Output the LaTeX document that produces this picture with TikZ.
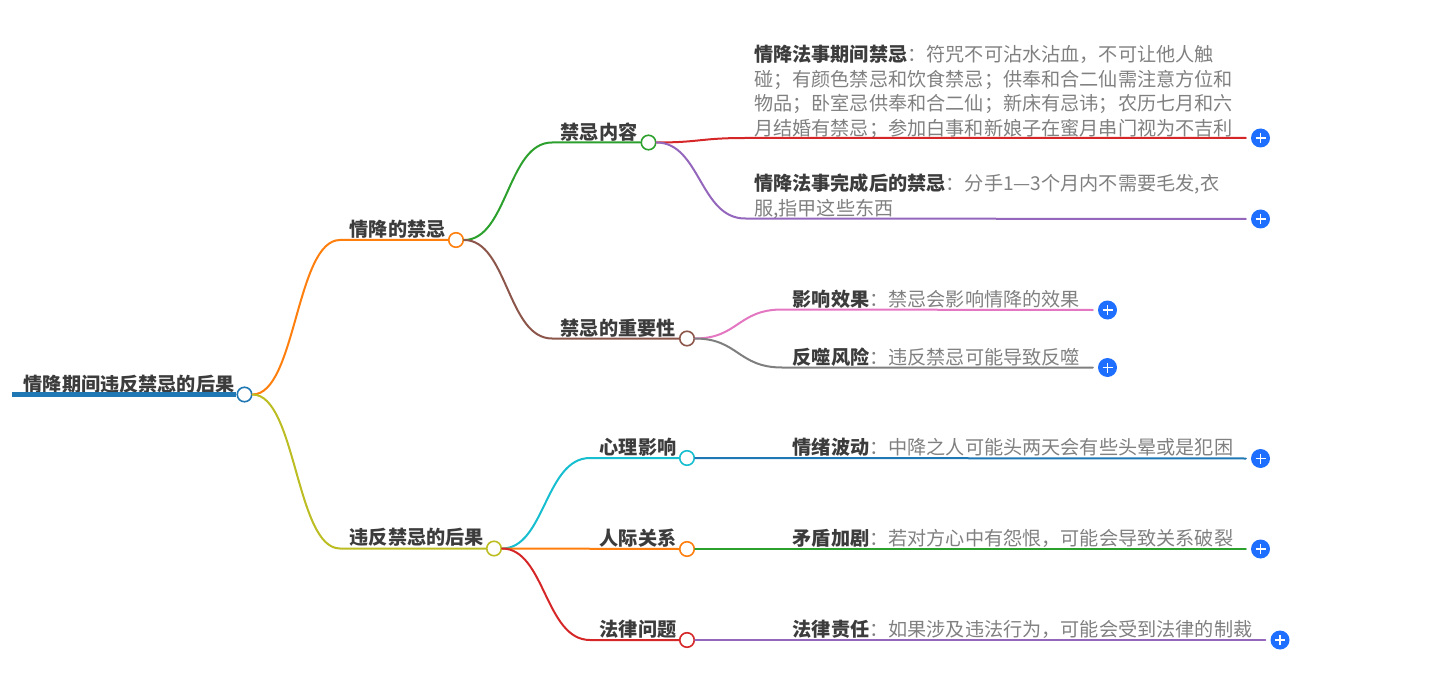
\documentclass[tikz,border=0pt]{standalone}
\usepackage{fontspec}
\setmainfont{Noto Sans CJK SC}
\definecolor{cblue}{HTML}{1F77B4}
\definecolor{corange}{HTML}{FF7F0E}
\definecolor{cgreen}{HTML}{2CA02C}
\definecolor{cred}{HTML}{D62728}
\definecolor{cpurple}{HTML}{9467BD}
\definecolor{cbrown}{HTML}{8C564B}
\definecolor{cpink}{HTML}{E377C2}
\definecolor{cgray}{HTML}{7F7F7F}
\definecolor{colive}{HTML}{BCBD22}
\definecolor{ccyan}{HTML}{17BECF}
\definecolor{plusblue}{HTML}{1E6FFF}
\definecolor{bodytext}{HTML}{808080}
\definecolor{headtext}{HTML}{3C3C3C}
\newcommand{\hd}[1]{\textbf{\textcolor{headtext}{#1}}}
\tikzset{
  x=1pt,y=-1pt,
  hub/.style={circle,draw=#1,fill=white,line width=1.6pt,minimum size=14.5pt,inner sep=0pt},
  edge/.style={draw=#1,line width=2pt,line cap=round},
  lbl/.style={anchor=west,inner sep=0pt,align=left,text=bodytext,font=\fontsize{19.15}{24.5}\selectfont},
  topic/.style={anchor=west,inner sep=0pt,font=\fontsize{19.15}{24.5}\selectfont\bfseries,text=headtext},
  plusbtn/.style={circle,fill=plusblue,minimum size=19pt,inner sep=0pt,
    path picture={\draw[white,line width=1.8pt]
      ([xshift=-5pt]path picture bounding box.center)--([xshift=5pt]path picture bounding box.center)
      ([yshift=-5pt]path picture bounding box.center)--([yshift=5pt]path picture bounding box.center);}},
}
\begin{document}
\begin{tikzpicture}
\useasboundingbox (0,0) rectangle (1449,679);
% hubs
\node[hub=cblue] (root) at (244.5,394.5) {};
\node[hub=corange] (h1) at (456,240) {};
\node[hub=colive] (h2) at (494,548.5) {};
\node[hub=cgreen] (h11) at (648.5,142.5) {};
\node[hub=cbrown] (h12) at (687,338.5) {};
\node[hub=ccyan] (h21) at (687,458) {};
\node[hub=corange] (h22) at (687,549) {};
\node[hub=cred] (h23) at (687,640) {};
% free ends
\coordinate (rootstart) at (12,394.5);
% add buttons
\node[plusbtn] (p1) at (1260.5,138) {};
\node[plusbtn] (p2) at (1260.5,219) {};
\node[plusbtn] (p3) at (1107.5,310) {};
\node[plusbtn] (p4) at (1107.5,367.5) {};
\node[plusbtn] (p5) at (1260.5,458.5) {};
\node[plusbtn] (p6) at (1260.5,549) {};
\node[plusbtn] (p7) at (1280,640) {};
% texts
\node[topic] (troot) at (23.5,384) {情降期间违反禁忌的后果};
\node[topic] (t1) at (349.5,229) {情降的禁忌};
\node[topic] (t2) at (349.5,537) {违反禁忌的后果};
\node[topic] (t11) at (560.5,132) {禁忌内容};
\node[topic] (t12) at (560.5,328) {禁忌的重要性};
\node[topic] (t21) at (599.5,447) {心理影响};
\node[topic] (t22) at (599.5,538) {人际关系};
\node[topic] (t23) at (599.5,629) {法律问题};
\node[lbl] (l1) at (754,92) {\hd{情降法事期间禁忌}：符咒不可沾水沾血，不可让他人触\\碰；有颜色禁忌和饮食禁忌；供奉和合二仙需注意方位和\\物品；卧室忌供奉和合二仙；新床有忌讳；农历七月和六\\月结婚有禁忌；参加白事和新娘子在蜜月串门视为不吉利};
\node[lbl] (l2) at (754,196.5) {\hd{情降法事完成后的禁忌}：分手1—3个月内不需要毛发,衣\\服,指甲这些东西};
\node[lbl] (l3) at (792.5,299) {\hd{影响效果}：禁忌会影响情降的效果};
\node[lbl] (l4) at (792.5,357) {\hd{反噬风险}：违反禁忌可能导致反噬};
\node[lbl] (l5) at (792.5,447) {\hd{情绪波动}：中降之人可能头两天会有些头晕或是犯困};
\node[lbl] (l6) at (792.5,538) {\hd{矛盾加剧}：若对方心中有怨恨，可能会导致关系破裂};
\node[lbl] (l7) at (792.5,629) {\hd{法律责任}：如果涉及违法行为，可能会受到法律的制裁};
% connectors
\draw[cblue,line width=5pt] (rootstart) -- (root.west);
\draw[edge=corange] (root.east) .. controls (296,394.5) and (296,240) .. (340,240) -- (h1.west);
\draw[edge=colive] (root.east) .. controls (296,394.5) and (296,548.5) .. (340,548.5) -- (h2.west);
\draw[edge=cgreen] (h1.east) .. controls (507.5,240) and (507.5,142.5) .. (552,142.5) -- (h11.west);
\draw[edge=cbrown] (h1.east) .. controls (507.5,240) and (507.5,338.5) .. (552,338.5) -- (h12.west);
\draw[edge=cred] (h11.east) .. controls (700,142.5) and (700,138) .. (745,138) -- ([xshift=-5pt]p1.west);
\draw[edge=cpurple] (h11.east) .. controls (700,142.5) and (700,218.5) .. (745,218.5) -- ([xshift=-5pt]p2.west);
\draw[edge=cpink] (h12.east) .. controls (738,338.5) and (738,309.5) .. (782,309.5) -- ([xshift=-5pt]p3.west);
\draw[edge=cgray] (h12.east) .. controls (738,338.5) and (738,367.5) .. (782,367.5) -- ([xshift=-5pt]p4.west);
\draw[edge=ccyan] (h2.east) .. controls (545,548.5) and (545,458) .. (590,458) -- (h21.west);
\draw[edge=corange] (h2.east) -- (h22.west);
\draw[edge=cred] (h2.east) .. controls (545,548.5) and (545,640) .. (590,640) -- (h23.west);
\draw[edge=cblue] (h21.east) -- ([xshift=-5pt]p5.west);
\draw[edge=cgreen] (h22.east) -- ([xshift=-5pt]p6.west);
\draw[edge=cpurple] (h23.east) -- ([xshift=-5pt]p7.west);
\end{tikzpicture}
\end{document}
